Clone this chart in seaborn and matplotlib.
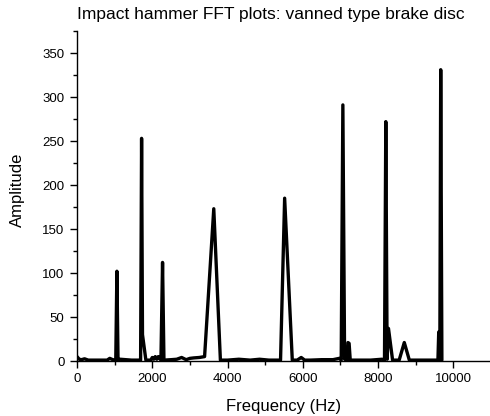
import matplotlib
matplotlib.use("Agg")
import matplotlib.pyplot as plt
import seaborn as sns
import pandas as pd
from matplotlib.ticker import MultipleLocator

freq = [0, 60, 120, 200, 300, 450, 600, 800, 870, 950, 1030, 1060, 1090, 1150, 1300,
        1450, 1650, 1690, 1716, 1740, 1830, 1960, 2000, 2040, 2080, 2120, 2160, 2230,
        2273, 2310, 2500, 2650, 2780, 2900, 3000, 3100, 3250, 3390, 3634, 3810, 4000,
        4300, 4600, 4850, 5100, 5408, 5517, 5720, 5850, 5957, 6050, 6200, 6500, 6800,
        6970, 7020, 7064, 7110, 7180, 7200, 7230, 7260, 7400, 7800, 8100, 8170, 8205,
        8240, 8276, 8385, 8560, 8696, 8830, 9000, 9300, 9590, 9611, 9640, 9664, 9695]
amp = [5, 2, 1.5, 2.5, 1, 1, 1, 1, 3, 1.5, 1, 102, 1, 2, 1.5,
       1, 1, 1, 253, 30, 1, 1, 4, 2, 5, 2, 5, 1,
       112, 1, 1.5, 2, 4, 1.5, 3, 3.5, 4, 5, 173, 1, 1,
       2, 1, 2, 1, 1, 185, 1, 1, 4, 1, 1, 1.5, 1.5,
       3, 1, 291, 2, 1, 21, 20, 1, 1, 1, 2, 1, 272,
       2, 37, 1, 1, 21, 1, 1, 1, 1, 33, 1, 331, 1]

df = pd.DataFrame({"Frequency": freq, "Amplitude": amp})

sns.set_style("ticks")
plt.rcParams["font.family"] = ["Liberation Sans", "DejaVu Sans"]
plt.rcParams["text.color"] = "black"
plt.rcParams["axes.labelcolor"] = "black"
plt.rcParams["xtick.color"] = "black"
plt.rcParams["ytick.color"] = "black"

fig = plt.figure(figsize=(4.9, 4.16), dpi=100)
ax = fig.add_axes([77 / 490, (416 - 361) / 416, (491 - 77) / 490, (361 - 31) / 416])
sns.lineplot(data=df, x="Frequency", y="Amplitude", ax=ax, color="black",
             linewidth=2.4, sort=False)

ax.set_xlim(0, 11000)
ax.set_ylim(0, 375)
ax.xaxis.set_major_locator(MultipleLocator(2000))
ax.xaxis.set_minor_locator(MultipleLocator(1000))
ax.yaxis.set_major_locator(MultipleLocator(50))
ax.yaxis.set_minor_locator(MultipleLocator(25))
ax.tick_params(which="major", direction="out", length=5, width=1, labelsize=9.5,
               colors="black", labelcolor="black", pad=4)
ax.tick_params(which="minor", direction="out", length=3, width=1, colors="black")
for s in ["top", "right"]:
    ax.spines[s].set_visible(False)
for s in ["left", "bottom"]:
    ax.spines[s].set_color("black")
    ax.spines[s].set_linewidth(1)

ax.set_xlabel("Frequency (Hz)", fontsize=12, labelpad=10, color="black")
ax.set_ylabel("Amplitude", fontsize=12, color="black")
ax.yaxis.set_label_coords(-0.125, 0.52)
ax.set_title("Impact hammer FFT plots: vanned type brake disc", fontsize=12.5,
             loc="left", pad=9, color="black")

fig.savefig("out.png", dpi=100)
